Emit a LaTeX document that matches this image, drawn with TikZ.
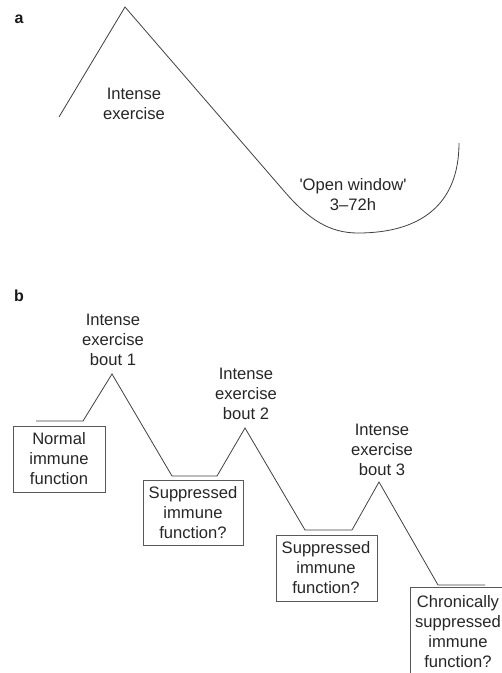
\documentclass[tikz,border=0pt]{standalone}
\usepackage{fontspec}
\setmainfont{Liberation Sans}
\begin{document}
\begin{tikzpicture}[x=1pt,y=-1pt,
  lbl/.style={font=\fontsize{16.6}{20}\selectfont, align=center, inner sep=0pt, text=black!85},
  panel/.style={font=\fontsize{16}{19}\selectfont\bfseries, inner sep=0pt, text=black!90},
  curve/.style={draw=black!75, line width=0.8pt, line join=miter},
  boxl/.style={draw=black!65, line width=0.8pt}]
\useasboundingbox (0,0) rectangle (502,673);
\clip (0,0) rectangle (502,673);
% panel a
\node[panel] (la) at (19,19) {a};
\coordinate (a0) at (59,117);
\coordinate (a1) at (125,7);
\coordinate (a2) at (284,191);
\coordinate (a3) at (358,233);
\coordinate (a4) at (459,143);
\draw[curve] (a0) -- (a1) -- (a2) .. controls (309,220) and (330,233) .. (a3) .. controls (420,233) and (459,205) .. (a4);
\node[lbl] (ie) at (134,104) {Intense\\exercise};
\node[lbl] (ow) at (353,195) {\textquotesingle Open window\textquotesingle\\3–72h};
% panel b
\node[panel] (lb) at (19,296) {b};
\coordinate (b0) at (36,421);
\coordinate (b1) at (83,421);
\coordinate (p1) at (112,374);
\coordinate (b2) at (172,476);
\coordinate (b3) at (217,476);
\coordinate (p2) at (245,428);
\coordinate (b4) at (305,530);
\coordinate (b5) at (352,530);
\coordinate (p3) at (379,482);
\coordinate (b6) at (438,585);
\coordinate (b7) at (485,585);
\draw[curve] (b0) -- (b1) -- (p1) -- (b2) -- (b3) -- (p2) -- (b4) -- (b5) -- (p3) -- (b6) -- (b7);
\node[lbl] (t1) at (113,340) {Intense\\exercise\\bout 1};
\node[lbl] (t2) at (246,394) {Intense\\exercise\\bout 2};
\node[lbl] (t3) at (382,450) {Intense\\exercise\\bout 3};
\draw[boxl] (13,426) rectangle (105,492);
\node[lbl] (n1) at (59,459) {Normal\\immune\\function};
\draw[boxl] (143,480) rectangle (243,545);
\node[lbl] (n2) at (193,513) {Suppressed\\immune\\function?};
\draw[boxl] (276,535) rectangle (377,601);
\node[lbl] (n3) at (326,568) {Suppressed\\immune\\function?};
\draw[boxl] (410,587) rectangle (506,690);
\node[lbl] (n4) at (458,632) {Chronically\\suppressed\\immune\\function?};
\end{tikzpicture}
\end{document}
